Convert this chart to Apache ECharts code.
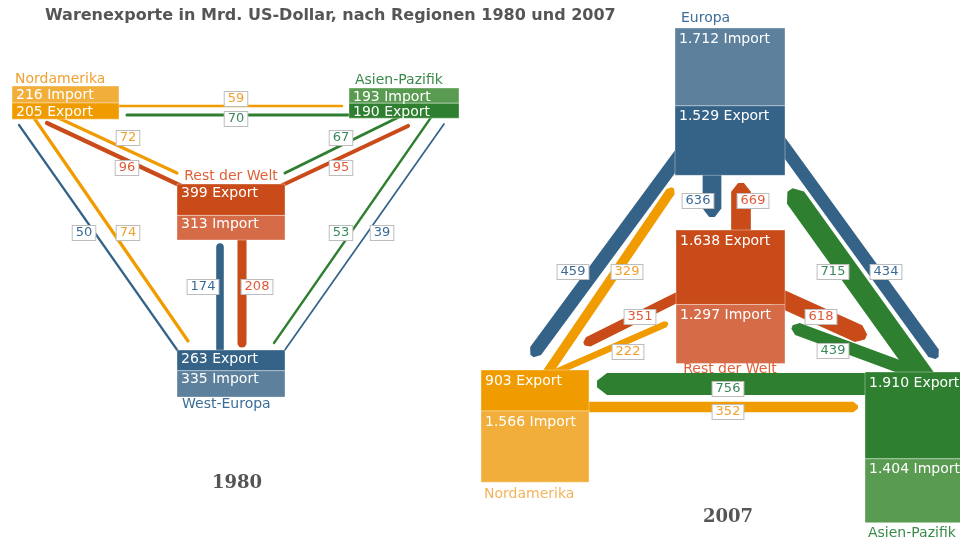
<!DOCTYPE html>
<html><head><meta charset="utf-8">
<script src="https://cdn.jsdelivr.net/npm/echarts@6/dist/echarts.min.js"></script>
<style>html,body{margin:0;padding:0;background:#fff}#c{width:960px;height:537px}</style>
</head><body><div id="c"></div>
<script>
// ---------------- DATA ----------------
const chartTitle = 'Warenexporte in Mrd. US-Dollar, nach Regionen 1980 und 2007';
const years = ['1980', '2007'];

const regions1980 = ['Nordamerika', 'Asien-Pazifik', 'Rest der Welt', 'West-Europa'];
const imports1980 = [216, 193, 313, 335];
const exports1980 = [205, 190, 399, 263];

const regions2007 = ['Europa', 'Rest der Welt', 'Nordamerika', 'Asien-Pazifik'];
const imports2007 = [1712, 1297, 1566, 1404];
const exports2007 = [1529, 1638, 903, 1910];

const flowFrom1980 = ['Nordamerika', 'Asien-Pazifik', 'Nordamerika', 'Rest der Welt', 'Asien-Pazifik', 'Rest der Welt', 'West-Europa', 'Nordamerika', 'Asien-Pazifik', 'West-Europa', 'West-Europa', 'Rest der Welt'];
const flowTo1980   = ['Asien-Pazifik', 'Nordamerika', 'Rest der Welt', 'Nordamerika', 'Rest der Welt', 'Asien-Pazifik', 'Nordamerika', 'West-Europa', 'West-Europa', 'Asien-Pazifik', 'Rest der Welt', 'West-Europa'];
const flowValues1980 = [59, 70, 72, 96, 67, 95, 50, 74, 53, 39, 174, 208];

const flowFrom2007 = ['Europa', 'Nordamerika', 'Europa', 'Rest der Welt', 'Asien-Pazifik', 'Europa', 'Rest der Welt', 'Nordamerika', 'Rest der Welt', 'Asien-Pazifik', 'Asien-Pazifik', 'Nordamerika'];
const flowTo2007   = ['Nordamerika', 'Europa', 'Rest der Welt', 'Europa', 'Europa', 'Asien-Pazifik', 'Nordamerika', 'Rest der Welt', 'Asien-Pazifik', 'Rest der Welt', 'Nordamerika', 'Asien-Pazifik'];
const flowValues2007 = [459, 329, 636, 669, 715, 434, 351, 222, 618, 439, 756, 352];

// ---------------- LAYOUT / STYLE ----------------
const palette = {
  'Nordamerika':   { exp: '#f09c00', imp: '#f1ae3b', flowText: '#f0a030', name: '#f0a030' },
  'Asien-Pazifik': { exp: '#2e7f2f', imp: '#5a9b52', flowText: '#3a8a5a', name: '#3a8a4a' },
  'Rest der Welt': { exp: '#c94b19', imp: '#d66b48', flowText: '#e05a3a', name: '#e0603a' },
  'West-Europa':   { exp: '#356287', imp: '#5d809d', flowText: '#3a6a98', name: '#3d6d99' },
  'Europa':        { exp: '#356287', imp: '#5d809d', flowText: '#3a6a98', name: '#3d6d99' }
};

const layout = {
  '1980': {
    boxUnit: 12.7, flowUnit: 23, textOffset: 9, yearPos: [237, 483], band: false,
    nodes: {
      'Nordamerika':   { x: 12,  y: 86,  w: 107, order: 'IE', label: [15, 79, 'left'] },
      'Asien-Pazifik': { x: 349, y: 88,  w: 110, order: 'IE', label: [355, 80, 'left'] },
      'Rest der Welt': { x: 177, y: 184, w: 108, order: 'EI', label: [231, 176, 'center'] },
      'West-Europa':   { x: 177, y: 350, w: 108, order: 'EI', label: [182, 404, 'left'] }
    },
    // x1, y1, x2, y2, labelX, labelY
    flows: [
      [112, 106, 342, 106, 236, 99],
      [355, 115, 127, 115, 236, 119],
      [52, 115, 177, 173, 128, 138],
      [190, 190, 47, 123, 127, 168],
      [405, 114, 285, 173, 341, 138],
      [272, 190, 408, 126, 341, 168],
      [180, 354, 19, 125, 84, 233],
      [32, 115, 188, 341, 128, 233],
      [432, 116, 274, 343, 341, 233],
      [282, 354, 444, 124, 382, 233],
      [220, 360, 220, 247, 203, 287],
      [242, 232, 242, 343, 257, 287]
    ]
  },
  '2007': {
    boxUnit: 22, flowUnit: 34, textOffset: 11, yearPos: [728, 517], band: true,
    nodes: {
      'Europa':        { x: 675, y: 28,  w: 110, order: 'IE', label: [681, 18, 'left'] },
      'Rest der Welt': { x: 676, y: 230, w: 109, order: 'EI', label: [730, 369, 'center'] },
      'Nordamerika':   { x: 481, y: 370, w: 108, order: 'EI', label: [484, 494, 'left'] },
      'Asien-Pazifik': { x: 865, y: 372, w: 100, order: 'EI', label: [868, 533, 'left'] }
    },
    flows: [
      [691, 140, 532, 356, 573, 272],
      [539, 385, 673, 188, 627, 272],
      [712, 160, 712, 217, 698, 201],
      [741, 250, 741, 183, 753, 201],
      [930, 385, 790, 190, 833, 272],
      [779, 140, 937, 358, 886, 272],
      [700, 286, 584, 344, 640, 317],
      [540, 379, 668, 323, 628, 352],
      [760, 289, 866, 337, 821, 317],
      [930, 378, 792, 327, 833, 351],
      [900, 384, 597, 384, 728, 389],
      [560, 407, 858, 407, 728, 412]
    ]
  }
};

const nameColor2007NA = '#f2b45a';

// ---------------- BUILD ----------------
function fmt(v) { return String(v).replace(/\B(?=(\d{3})+(?!\d))/g, '.'); }

const yearData = {
  '1980': { regions: regions1980, imports: imports1980, exports: exports1980, from: flowFrom1980, to: flowTo1980, values: flowValues1980 },
  '2007': { regions: regions2007, imports: imports2007, exports: exports2007, from: flowFrom2007, to: flowTo2007, values: flowValues2007 }
};

const boxes = [];
const boxData = [];
const regionLabels = [];
const flows = [];
const flowData = [];
const flowLabelData = [];
const flowLabelMeta = [];

years.forEach(function (yr) {
  const d = yearData[yr], L = layout[yr];
  d.regions.forEach(function (r, i) {
    const n = L.nodes[r];
    const parts = n.order === 'IE'
      ? [['imp', d.imports[i], ' Import'], ['exp', d.exports[i], ' Export']]
      : [['exp', d.exports[i], ' Export'], ['imp', d.imports[i], ' Import']];
    let top = n.y;
    parts.forEach(function (p) {
      const h = p[1] / L.boxUnit;
      boxData.push([n.x, top, n.x + n.w, top + h]);
      boxes.push({ color: palette[r][p[0]], text: fmt(p[1]) + p[2], off: L.textOffset });
      top += h;
    });
    regionLabels.push({ pos: n.label, text: r, color: (yr === '2007' && r === 'Nordamerika') ? nameColor2007NA : palette[r].name });
  });
  d.values.forEach(function (v, i) {
    const f = L.flows[i];
    flowData.push([f[0], f[1], f[2], f[3], v / L.flowUnit]);
    flows.push({ color: palette[d.from[i]].exp, band: L.band });
    flowLabelData.push([f[4], f[5], v]);
    flowLabelMeta.push({ color: palette[d.from[i]].flowText });
  });
});

const chart = echarts.init(document.getElementById('c'), null, { renderer: 'canvas' });

chart.setOption({
  animation: false,
  backgroundColor: '#fff',
  title: {
    text: chartTitle, left: 45, top: 8, padding: 0,
    textStyle: { fontFamily: 'DejaVu Sans', fontSize: 16, fontWeight: 'bold', color: '#555' }
  },
  grid: { left: 0, right: 0, top: 0, bottom: 0 },
  xAxis: { type: 'value', min: 0, max: 960, show: false },
  yAxis: { type: 'value', min: 0, max: 537, inverse: true, show: false },
  series: [
    {
      type: 'custom', name: 'flows', silent: true, z: 1, clip: false,
      data: flowData,
      renderItem: function (params, api) {
        const m = flows[params.dataIndex];
        const p1 = api.coord([api.value(0), api.value(1)]);
        const p2 = api.coord([api.value(2), api.value(3)]);
        const w = api.size([api.value(4), 0])[0];
        if (!m.band) {
          return { type: 'line', shape: { x1: p1[0], y1: p1[1], x2: p2[0], y2: p2[1] },
            style: { stroke: m.color, lineWidth: w, lineCap: 'round' } };
        }
        const dx = p2[0] - p1[0], dy = p2[1] - p1[1];
        const len = Math.sqrt(dx * dx + dy * dy);
        const ux = dx / len, uy = dy / len;
        const nx = -uy, ny = ux;
        const a = w * 0.45, hw = w / 2, tw = w * 0.15;
        const bx = p2[0] - ux * a, by = p2[1] - uy * a;
        const pts = [
          [p1[0] + nx * hw, p1[1] + ny * hw],
          [bx + nx * hw, by + ny * hw],
          [p2[0] + nx * tw, p2[1] + ny * tw],
          [p2[0] - nx * tw, p2[1] - ny * tw],
          [bx - nx * hw, by - ny * hw],
          [p1[0] - nx * hw, p1[1] - ny * hw]
        ];
        return { type: 'polygon', shape: { points: pts }, style: { fill: m.color } };
      }
    },
    {
      type: 'custom', name: 'boxes', silent: true, z: 2, clip: false,
      data: boxData,
      renderItem: function (params, api) {
        const b = boxes[params.dataIndex];
        const p1 = api.coord([api.value(0), api.value(1)]);
        const p2 = api.coord([api.value(2), api.value(3)]);
        return {
          type: 'group', children: [
            { type: 'rect', shape: { x: p1[0], y: p1[1], width: p2[0] - p1[0], height: p2[1] - p1[1] },
              style: { fill: b.color, stroke: 'rgba(255,255,255,0.35)', lineWidth: 1 } },
            { type: 'text', x: p1[0] + 4, y: p1[1] + b.off, z2: 10,
              style: { text: b.text, fill: '#fff', font: '14px "DejaVu Sans"', verticalAlign: 'middle', align: 'left' } }
          ]
        };
      }
    },
    {
      type: 'custom', name: 'regionLabels', silent: true, z: 3, clip: false,
      data: regionLabels.map(function (r) { return [r.pos[0], r.pos[1]]; }),
      renderItem: function (params, api) {
        const r = regionLabels[params.dataIndex];
        const p = api.coord([api.value(0), api.value(1)]);
        return { type: 'text', x: p[0], y: p[1],
          style: { text: r.text, fill: r.color, font: '14px "DejaVu Sans"', align: r.pos[2], verticalAlign: 'middle' } };
      }
    },
    {
      type: 'custom', name: 'flowLabels', silent: true, z: 4, clip: false,
      data: flowLabelData,
      renderItem: function (params, api) {
        const m = flowLabelMeta[params.dataIndex];
        const p = api.coord([api.value(0), api.value(1)]);
        return { type: 'text', x: p[0], y: p[1],
          style: { text: String(api.value(2)), fill: m.color, font: '13px "DejaVu Sans"', align: 'center', verticalAlign: 'middle',
            backgroundColor: '#fff', borderColor: '#bdbdbd', borderWidth: 1, padding: [1, 3, 0, 3] } };
      }
    },
    {
      type: 'custom', name: 'years', silent: true, z: 4, clip: false,
      data: years.map(function (y) { return [layout[y].yearPos[0], layout[y].yearPos[1]]; }),
      renderItem: function (params, api) {
        const p = api.coord([api.value(0), api.value(1)]);
        return { type: 'text', x: p[0], y: p[1],
          style: { text: years[params.dataIndex], fill: '#555', font: 'bold 18px "DejaVu Serif"', align: 'center', verticalAlign: 'middle' } };
      }
    }
  ]
});
</script>
</body></html>
